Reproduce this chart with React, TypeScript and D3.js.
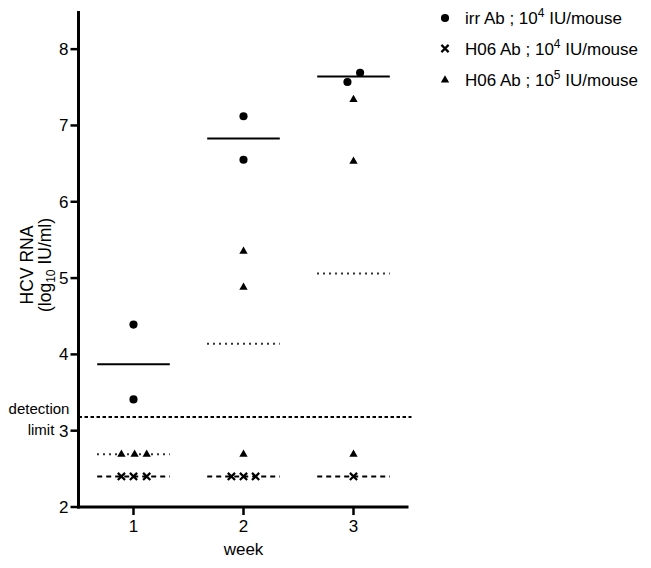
import React from "react";
import * as d3 from "d3";

const weekTicks = [1, 2, 3];
const yTicks = [2, 3, 4, 5, 6, 7, 8];

// irr Ab ; 10^4 IU/mouse (circles)
const irrWeek = [1.0, 1.0, 2.0, 2.0, 2.945, 3.06];
const irrRNA = [4.39, 3.41, 7.12, 6.55, 7.57, 7.69];
// H06 Ab ; 10^4 IU/mouse (crosses)
const lowWeek = [0.89, 1.0, 1.12, 1.89, 2.0, 2.11, 3.0];
const lowRNA = [2.4, 2.4, 2.4, 2.4, 2.4, 2.4, 2.4];
// H06 Ab ; 10^5 IU/mouse (triangles)
const highWeek = [0.89, 1.01, 1.12, 2.0, 2.0, 2.0, 3.0, 3.0, 3.0];
const highRNA = [2.69, 2.69, 2.69, 5.35, 4.88, 2.69, 7.34, 6.53, 2.69];

// group means per week
const irrMean = [3.87, 6.83, 7.64];
const highMean = [2.69, 4.14, 5.06];
const lowMean = [2.4, 2.4, 2.4];

const detectionLimit = 3.18;

const W = 651;
const H = 568;
const FONT = "'Liberation Sans', Arial, Helvetica, sans-serif";

export default function App() {
  const x = d3.scaleLinear().domain([0.5, 3.5]).range([78.5, 408.5]);
  const y = d3.scaleLinear().domain([2, 8.5]).range([507, 11]);
  const half = 0.33;
  const circlePath = d3.symbol(d3.symbolCircle, 52)()!;
  const triPath = d3.symbol(d3.symbolTriangle, 30)()!;
  const cr = 3.6;
  const crossPath = `M${-cr},${-cr}L${cr},${cr}M${-cr},${cr}L${cr},${-cr}`;

  const meanLine = (vals: number[], dash: string | undefined, sw: number, key: string) =>
    vals.map((v, i) => (
      <line
        key={key + i}
        x1={x(weekTicks[i] - half)}
        x2={x(weekTicks[i] + half)}
        y1={y(v)}
        y2={y(v)}
        stroke="#000"
        strokeWidth={sw}
        strokeDasharray={dash}
      />
    ));

  const legend = [
    { label: "irr Ab ; 10", sup: "4", kind: "circle" },
    { label: "H06 Ab ; 10", sup: "4", kind: "cross" },
    { label: "H06 Ab ; 10", sup: "5", kind: "tri" },
  ];
  const legendY = [18, 48.5, 80];

  return (
    <svg
      width={W}
      height={H}
      style={{ position: "absolute", left: 0, top: 0, background: "#fff" }}
      fontFamily={FONT}
    >
      <rect width={W} height={H} fill="#fff" />
      {/* detection limit */}
      <line
        x1={x(0.5)}
        x2={x(3.5) + 3}
        y1={y(detectionLimit)}
        y2={y(detectionLimit)}
        stroke="#000"
        strokeWidth={2}
        strokeDasharray="3.5,2.5"
      />
      <text x={39} y={y(detectionLimit) - 3} textAnchor="middle" fontSize={15}>
        detection
      </text>
      <text x={41} y={y(detectionLimit) + 18} textAnchor="middle" fontSize={15}>
        limit
      </text>

      {/* mean lines */}
      {meanLine(irrMean, undefined, 2, "irr")}
      {meanLine(highMean, "1.6,4.4", 2, "high")}
      {meanLine(lowMean, "5,4", 1.8, "low")}

      {/* points */}
      {irrWeek.map((w, i) => (
        <path key={"c" + i} d={circlePath} transform={`translate(${x(w)},${y(irrRNA[i])})`} fill="#000" />
      ))}
      {highWeek.map((w, i) => (
        <path key={"t" + i} d={triPath} transform={`translate(${x(w)},${y(highRNA[i])})`} fill="#000" />
      ))}
      {lowWeek.map((w, i) => (
        <path
          key={"x" + i}
          d={crossPath}
          transform={`translate(${x(w)},${y(lowRNA[i])})`}
          stroke="#000"
          strokeWidth={2.2}
          fill="none"
        />
      ))}

      {/* y axis */}
      <line x1={x(0.5)} x2={x(0.5)} y1={y(8.5)} y2={y(2) + 1.5} stroke="#000" strokeWidth={3} />
      {yTicks.map((t) => (
        <g key={"yt" + t}>
          <line x1={x(0.5) - 8} x2={x(0.5)} y1={y(t)} y2={y(t)} stroke="#000" strokeWidth={2.5} />
          <text x={x(0.5) - 10} y={y(t) + 6} textAnchor="end" fontSize={17}>
            {t}
          </text>
        </g>
      ))}
      {/* x axis */}
      <line x1={x(0.5) - 1.5} x2={x(3.5)} y1={y(2)} y2={y(2)} stroke="#000" strokeWidth={3} />
      {weekTicks.map((t) => (
        <g key={"xt" + t}>
          <line x1={x(t)} x2={x(t)} y1={y(2)} y2={y(2) + 8} stroke="#000" strokeWidth={2.5} />
          <text x={x(t)} y={y(2) + 25} textAnchor="middle" fontSize={17}>
            {t}
          </text>
        </g>
      ))}
      <text x={x(2)} y={555} textAnchor="middle" fontSize={17}>
        week
      </text>

      {/* y axis title */}
      <text transform="translate(33,265) rotate(-90)" textAnchor="middle" fontSize={17.5}>
        HCV RNA
      </text>
      <text transform="translate(51,265) rotate(-90)" textAnchor="middle" fontSize={17.5}>
        (log
        <tspan fontSize={12} dy={4}>
          10
        </tspan>
        <tspan dy={-4}> IU/ml)</tspan>
      </text>

      {/* legend */}
      {legend.map((l, i) => (
        <g key={"lg" + i} transform={`translate(445,${legendY[i]})`}>
          {l.kind === "circle" && <path d={circlePath} fill="#000" />}
          {l.kind === "tri" && <path d={triPath} fill="#000" />}
          {l.kind === "cross" && <path d={crossPath} stroke="#000" strokeWidth={2.2} fill="none" />}
          <text x={20} y={6} fontSize={17}>
            {l.label}
            <tspan fontSize={12} dy={-7}>
              {l.sup}
            </tspan>
            <tspan dy={7}> IU/mouse</tspan>
          </text>
        </g>
      ))}
    </svg>
  );
}
